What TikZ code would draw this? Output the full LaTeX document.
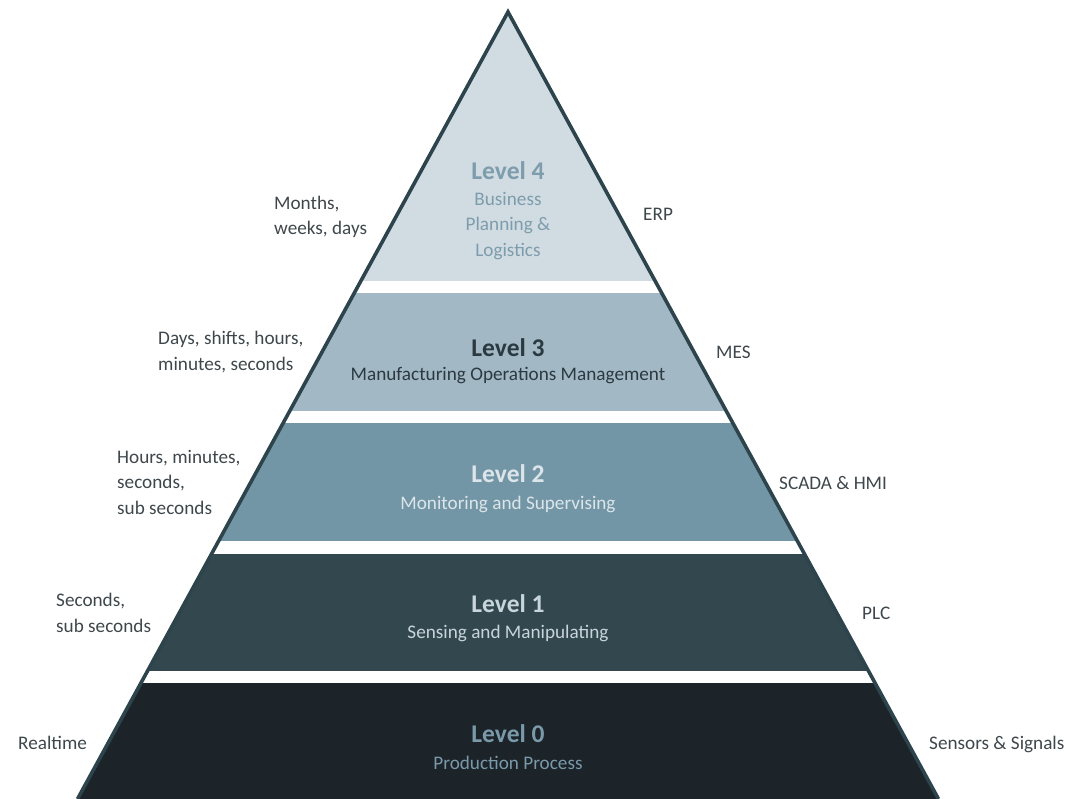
\documentclass[tikz,border=0pt]{standalone}
\usepackage{fontspec}
\setmainfont{Carlito}
\definecolor{cfour}{HTML}{D1DCE2}
\definecolor{cthree}{HTML}{A2B8C4}
\definecolor{ctwo}{HTML}{7396A6}
\definecolor{cone}{HTML}{33474F}
\definecolor{czero}{HTML}{1C2329}
\definecolor{edge}{HTML}{2E444C}
\definecolor{tfour}{HTML}{7D9CAC}
\definecolor{tthree}{HTML}{2B3A41}
\definecolor{ttwo}{HTML}{DCE5E9}
\definecolor{tone}{HTML}{C8D5DB}
\definecolor{tzero}{HTML}{7A9AAA}
\definecolor{side}{HTML}{3E474B}
\tikzset{
  title/.style={inner sep=0pt, font=\fontsize{25.5}{29}\selectfont\bfseries},
  sub/.style={inner sep=0pt, align=center, font=\fontsize{19.2}{25.5}\selectfont},
  lbl/.style={inner sep=0pt, anchor=west, align=left, text=side, font=\fontsize{19.2}{25.5}\selectfont},
}
\begin{document}
\begin{tikzpicture}[x=1pt,y=-1pt]
\useasboundingbox (0,0) rectangle (1068,799);
\coordinate (apex) at (508,12);
\coordinate (bl) at (77.5,799);
\coordinate (br) at (938.5,799);
\begin{scope}
  \clip (apex) -- (br) -- (bl) -- cycle;
  \fill[cfour] (0,0) rectangle (1068,281);
  \fill[cthree] (0,293) rectangle (1068,411);
  \fill[ctwo] (0,423) rectangle (1068,541);
  \fill[cone] (0,554) rectangle (1068,671);
  \fill[czero] (0,683) rectangle (1068,800);
\end{scope}
\draw[edge, line width=3.6pt, line join=miter] (bl) -- (apex) -- (br);

% level texts
\node[title, text=tfour] (l4) at (508,171) {Level 4};
\node[sub, text=tfour] (l4s) at (508,226) {Business\\Planning \&\\Logistics};
\node[title, text=tthree] (l3) at (508,348) {Level 3};
\node[sub, text=tthree] (l3s) at (508,376) {Manufacturing Operations Management};
\node[title, text=ttwo] (l2) at (508,474) {Level 2};
\node[sub, text=ttwo] (l2s) at (508,504) {Monitoring and Supervising};
\node[title, text=tone] (l1) at (508,604) {Level 1};
\node[sub, text=tone] (l1s) at (508,633) {Sensing and Manipulating};
\node[title, text=tzero] (l0) at (508,734) {Level 0};
\node[sub, text=tzero] (l0s) at (508,763) {Production Process};

% left labels
\node[lbl] (t4) at (274,217) {Months,\\weeks, days};
\node[lbl] (t3) at (158,352) {Days, shifts, hours,\\minutes, seconds};
\node[lbl] (t2) at (117,482) {Hours, minutes,\\seconds,\\sub seconds};
\node[lbl] (t1) at (56,613) {Seconds,\\sub seconds};
\node[lbl] (t0) at (18,743) {Realtime};

% right labels
\node[lbl] (s4) at (643,214) {ERP};
\node[lbl] (s3) at (716,352) {MES};
\node[lbl] (s2) at (779,483) {SCADA \& HMI};
\node[lbl] (s1) at (862,613) {PLC};
\node[lbl] (s0) at (929,744) {Sensors \& Signals};
\end{tikzpicture}
\end{document}
